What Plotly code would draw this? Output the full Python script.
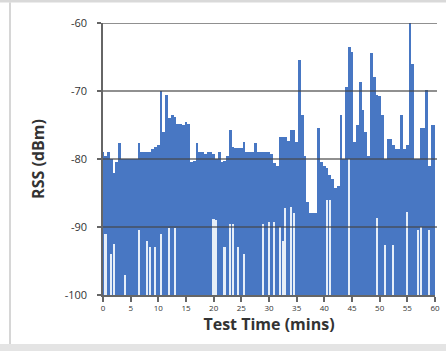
import plotly.graph_objects as go

# Time bins (minutes), 0.5-min resolution
time_min = [i * 0.5 for i in range(121)]

# Upper envelope of RSS per bin (dBm)
rss_peak = [
    -79, -79.5, -79, -80, -82, -80.5, -77.7, -80, -80, -80,      # 0.0 - 4.5
    -80, -80, -80, -77.7, -79, -79, -79, -79, -78.5, -78.3,      # 5.0 - 9.5
    -78, -70, -76, -70.6, -74, -73.5, -73.8, -74.8, -74.8, -75,  # 10.0 - 14.5
    -74.6, -74.8, -80.5, -80.3, -77.7, -79, -79, -79.3, -79, -79,  # 15.0 - 19.5
    -79.2, -80, -79, -80.5, -80.3, -79.5, -75.7, -78.2, -78.4, -78.4,  # 20.0 - 24.5
    -78.4, -77.5, -79, -79, -79, -77.7, -79, -79, -79, -79,      # 25.0 - 29.5
    -79, -79.2, -80.6, -81, -76.8, -76.8, -76.8, -77.3, -75.7, -75.7,  # 30.0 - 34.5
    -77.5, -65.4, -73.5, -79.5, -86.3, -88, -88, -88, -75.4, -80.5,    # 35.0 - 39.5
    -81, -81.3, -82.4, -83, -84.3, -84, -73.5, -80, -69.4, -63.5,      # 40.0 - 44.5
    -64.3, -77.5, -75, -68.7, -72.8, -76, -79.5, -64.4, -68, -70.6,    # 45.0 - 49.5
    -70.8, -73.5, -80, -77, -77, -78, -78.5, -78.5, -73.5, -78.5,      # 50.0 - 54.5
    -78, -60, -66, -80, -80, -75.4, -75.4, -69.9, -81, -75,            # 55.0 - 59.5
    -75,                                                               # 60.0
]

# Lower envelope of RSS per bin (dBm)
rss_trough = [
    -100, -91, -100, -94, -92.5, -100, -100, -100, -97, -100,    # 0.0 - 4.5
    -100, -100, -100, -90.5, -100, -100, -92, -93, -100, -93,    # 5.0 - 9.5
    -100, -91, -100, -100, -90.2, -100, -90.2, -100, -100, -100,  # 10.0 - 14.5
    -100, -100, -100, -100, -100, -100, -100, -100, -100, -100,  # 15.0 - 19.5
    -88.8, -89, -100, -100, -93, -100, -89.6, -89.6, -100, -93,  # 20.0 - 24.5
    -100, -94, -100, -100, -100, -100, -100, -100, -89.5, -100,  # 25.0 - 29.5
    -89.2, -100, -89.3, -100, -90, -92, -87.2, -100, -87, -88,   # 30.0 - 34.5
    -100, -100, -100, -100, -100, -100, -100, -100, -100, -100,  # 35.0 - 39.5
    -100, -86, -86, -100, -100, -100, -100, -100, -100, -80,     # 40.0 - 44.5
    -100, -100, -100, -100, -100, -100, -100, -100, -100, -88.7,  # 45.0 - 49.5
    -100, -100, -92.7, -100, -100, -92.7, -100, -100, -100, -100,  # 50.0 - 54.5
    -87.8, -100, -100, -100, -90.4, -90, -100, -100, -90.4, -100,  # 55.0 - 59.5
    -100,                                                          # 60.0
]

y_ticks = [-100, -90, -80, -70, -60]
x_ticks = list(range(0, 61, 5))
Y_MIN, Y_MAX = -100, -60

BLUE = "#4877c3"
GAP = "#e6eef8"
GRID = "rgba(70,70,70,0.8)"
AXIS = "#666666"
TEXT = "#333333"
FONT = "Open Sans"

# Filled band from the axis floor to the upper envelope
fig = go.Figure()
fig.add_trace(go.Bar(
    x=time_min, y=[p - Y_MIN for p in rss_peak], base=Y_MIN, width=0.5,
    marker=dict(color=BLUE, line=dict(width=0)),
    hoverinfo="skip", showlegend=False,
))
# Thin light slivers where the signal did not drop to the floor
gap_x = [t for t, v in zip(time_min, rss_trough) if v > Y_MIN]
gap_h = [v - Y_MIN for v in rss_trough if v > Y_MIN]
fig.add_trace(go.Bar(
    x=gap_x, y=gap_h, base=Y_MIN, width=0.3,
    marker=dict(color=GAP, line=dict(width=0)),
    hoverinfo="skip", showlegend=False,
))

# Horizontal gridlines drawn above the data (as in the reference)
for v in y_ticks[1:]:
    fig.add_shape(type="line", xref="paper", yref="y", x0=0, x1=1.006, y0=v, y1=v,
                  line=dict(color=GRID, width=1.6), layer="above")

# Chart-area frame (light grey band top/bottom, thin left border)
W, H = 446, 351
L, R, T, B = 103, 11, 23, 56
pw, ph = W - L - R, H - T - B
def px(x):
    return (x - L) / pw
def py(y):
    return (H - B - y) / ph
fig.add_shape(type="rect", xref="paper", yref="paper", x0=px(0), x1=px(W), y0=py(0), y1=py(2.5),
              fillcolor="#d9d9d9", line=dict(width=0), layer="below")
fig.add_shape(type="rect", xref="paper", yref="paper", x0=px(0), x1=px(W), y0=py(344), y1=py(H),
              fillcolor="#e4e4e4", line=dict(width=0), layer="below")
fig.add_shape(type="line", xref="paper", yref="paper", x0=px(10), x1=px(10), y0=py(2.5), y1=py(344),
              line=dict(color="#c8c8c8", width=1.5), layer="below")

fig.update_layout(
    width=W, height=H,
    margin=dict(l=L, r=R, t=T, b=B, autoexpand=False),
    paper_bgcolor="white", plot_bgcolor="white",
    barmode="overlay", bargap=0,
    font=dict(family=FONT, color=TEXT),
    xaxis=dict(
        range=[0, 60], tickvals=x_ticks, ticktext=[str(v) for v in x_ticks],
        showgrid=False, zeroline=False, automargin=False,
        showline=True, linecolor=AXIS, linewidth=1.5,
        ticks="outside", ticklen=5, tickwidth=1.5, tickcolor=AXIS,
        tickfont=dict(size=8, family=FONT, color=TEXT),
        title=dict(text="<b>Test Time (mins)</b>", font=dict(size=16, family=FONT, color=TEXT), standoff=4),
        layer="above traces",
    ),
    yaxis=dict(
        range=[Y_MIN, Y_MAX], tickvals=y_ticks, ticktext=[str(v) for v in y_ticks],
        showgrid=False, zeroline=False, automargin=False,
        showline=True, linecolor=AXIS, linewidth=1.5,
        ticks="outside", ticklen=4, tickwidth=1.5, tickcolor=AXIS,
        ticklabelstandoff=8,
        tickfont=dict(size=11, family=FONT, color=TEXT),
        title=dict(text="<b>RSS (dBm)</b>", font=dict(size=16, family=FONT, color=TEXT), standoff=16),
        layer="above traces",
    ),
)

fig.write_html("out.html", post_script="document.body.style.margin='0';",
               config={"displayModeBar": False})
